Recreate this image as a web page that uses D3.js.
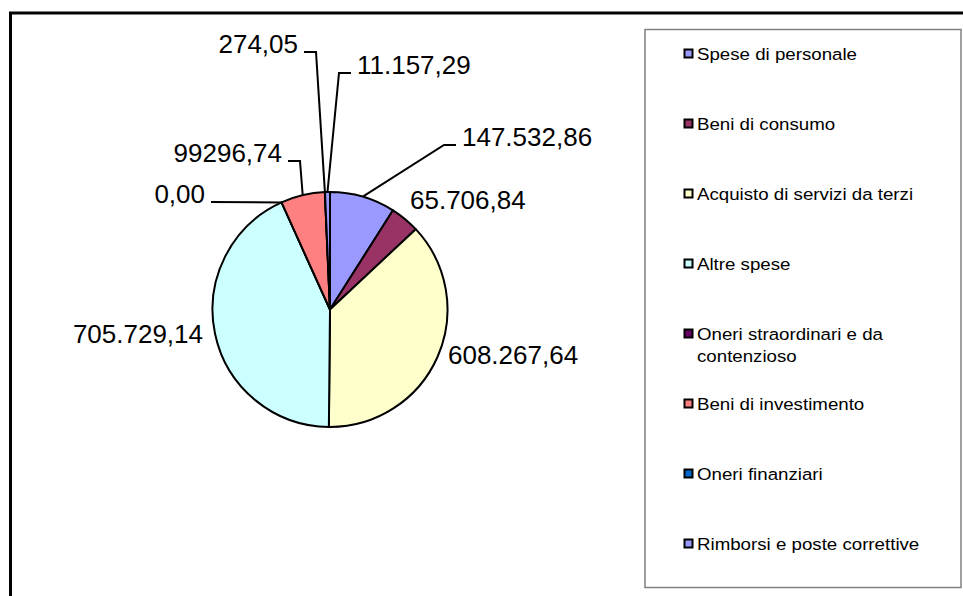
<!DOCTYPE html>
<html>
<head>
<meta charset="utf-8">
<script src="https://cdn.jsdelivr.net/npm/d3@7"></script>
<style>
  html, body { margin: 0; padding: 0; background: #ffffff; }
  svg { display: block; }
  text { font-family: "Liberation Sans", Arial, Helvetica, sans-serif; fill: #000; }
</style>
</head>
<body>
<svg id="chart" width="963" height="596"></svg>
<script>
// ---- data ----
const categories = [
  "Spese di personale",
  "Beni di consumo",
  "Acquisto di servizi da terzi",
  "Altre spese",
  "Oneri straordinari e da contenzioso",
  "Beni di investimento",
  "Oneri finanziari",
  "Rimborsi e poste correttive"
];
const values = [147532.86, 65706.84, 608267.64, 705729.14, 0.00, 99296.74, 274.05, 11157.29];
const valueLabels = ["147.532,86", "65.706,84", "608.267,64", "705.729,14", "0,00", "99296,74", "274,05", "11.157,29"];
const colors = ["#9999FF", "#993366", "#FFFFCC", "#CCFFFF", "#660066", "#FF8080", "#0066CC", "#9999FF"];

// ---- layout ----
const W = 963, H = 596;
const cx = 330, cy = 309.5, R = 117.5;
// label placement relative to pie centre: text anchor point, anchor side, leader type
const labelPlacement = [
  { dx: 132,  dy: -172.5, anchor: "start", leader: "elbow" },
  { dx: 80,   dy: -109.5, anchor: "start", leader: "none" },
  { dx: 118,  dy: 45.5,   anchor: "start", leader: "none" },
  { dx: -127, dy: 24.5,   anchor: "end",   leader: "none" },
  { dx: -125, dy: -115.5, anchor: "end",   leader: "straight" },
  { dx: -48,  dy: -156.5, anchor: "end",   leader: "elbow" },
  { dx: -32,  dy: -265.5, anchor: "end",   leader: "elbow" },
  { dx: 27,   dy: -244.5, anchor: "start", leader: "elbow" }
];
const labelFont = 25, labelScale = 1.04;
const legendFont = 17, legendScale = 1.1;

const svg = d3.select("#chart");

// outer frame (clipped at right & bottom)
svg.append("path")
  .attr("d", `M10.5,${H} L10.5,13 L${W},13`)
  .attr("fill", "none").attr("stroke", "#000").attr("stroke-width", 3);

// ---- pie ----
const pie = d3.pie().sort(null).value(d => d).startAngle(0).endAngle(2 * Math.PI);
const arcs = pie(values);
const arc = d3.arc().innerRadius(0).outerRadius(R);
const g = svg.append("g").attr("transform", `translate(${cx},${cy})`);

g.selectAll("path.slice")
  .data(arcs)
  .join("path")
  .attr("class", "slice")
  .attr("d", arc)
  .attr("fill", (d, i) => colors[i])
  .attr("stroke", "#000")
  .attr("stroke-width", 2)
  .attr("stroke-linejoin", "round");

// ---- labels & leader lines ----
const polar = (a, r) => [r * Math.sin(a), -r * Math.cos(a)];
arcs.forEach((d, i) => {
  const p = labelPlacement[i];
  const t = g.append("text")
    .attr("transform", `translate(${p.dx},${p.dy}) scale(${labelScale},1)`)
    .attr("text-anchor", p.anchor)
    .attr("dy", "0.36em")
    .style("font-size", labelFont + "px")
    .text(valueLabels[i]);
  if (p.leader === "none") return;
  const mid = (d.startAngle + d.endAngle) / 2;
  const start = polar(mid, R);
  const side = p.anchor === "start" ? -1 : 1;
  const ly = p.dy + 8;
  const endX = p.dx + side * 6;
  let pts;
  if (p.leader === "elbow") {
    const elbowX = p.dx + side * 18;
    pts = [start, [elbowX, ly], [endX, ly]];
  } else {
    pts = [start, [endX, ly]];
  }
  g.append("path")
    .attr("d", d3.line()(pts))
    .attr("fill", "none")
    .attr("stroke", "#000")
    .attr("stroke-width", 2);
});

// ---- legend ----
const legendBox = { x: 645, y: 29.5, w: 316, h: 558 };
svg.append("rect")
  .attr("x", legendBox.x).attr("y", legendBox.y)
  .attr("width", legendBox.w).attr("height", legendBox.h)
  .attr("fill", "#fff").attr("stroke", "#808080").attr("stroke-width", 1.5);

const legendY = d3.scalePoint().domain(d3.range(categories.length)).range([54, 544]);
const maxTextW = 235;
categories.forEach((name, i) => {
  const y = legendY(i);
  svg.append("rect")
    .attr("x", 684.5).attr("y", y - 4.5)
    .attr("width", 8).attr("height", 8)
    .attr("fill", colors[i]).attr("stroke", "#000").attr("stroke-width", 2);
  const t = svg.append("text")
    .attr("transform", `translate(697,${y}) scale(${legendScale},1)`)
    .style("font-size", legendFont + "px");
  // word wrap
  const words = name.split(" ");
  let line = [], lineNo = 0;
  let tspan = t.append("tspan").attr("x", 0).attr("dy", "0.36em");
  words.forEach(w => {
    line.push(w);
    tspan.text(line.join(" "));
    if (tspan.node().getComputedTextLength() * legendScale > maxTextW && line.length > 1) {
      line.pop();
      tspan.text(line.join(" "));
      line = [w];
      lineNo++;
      tspan = t.append("tspan").attr("x", 0).attr("dy", "1.27em").text(w);
    }
  });
});
</script>
</body>
</html>
